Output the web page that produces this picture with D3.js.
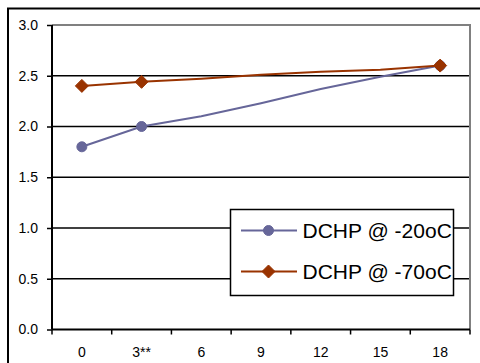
<!DOCTYPE html>
<html>
<head>
<meta charset="utf-8">
<script src="https://cdn.jsdelivr.net/npm/d3@7/dist/d3.min.js"></script>
<style>
  html, body { margin: 0; padding: 0; background: #fff; }
  svg { display: block; }
  text { font-family: "Liberation Sans", Arial, sans-serif; }
</style>
</head>
<body>
<svg id="chart" width="480" height="363"></svg>
<script>
// Storage time categories (x axis)
const categories = ["0", "3**", "6", "9", "12", "15", "18"];
// Series values
const dchpMinus20 = [1.80, 2.00, 2.10, 2.23, 2.37, 2.49, 2.60];
const dchpMinus70 = [2.40, 2.44, 2.47, 2.51, 2.54, 2.56, 2.60];
// Which points carry a marker
const markedPoints = [true, true, false, false, false, false, true];
// Y axis ticks
const yTicks = [0, 0.5, 1.0, 1.5, 2.0, 2.5, 3.0];

const series = [
  { name: "DCHP @ -20oC", values: dchpMinus20, color: "#666699", shape: "circle" },
  { name: "DCHP @ -70oC", values: dchpMinus70, color: "#993300", shape: "diamond" }
];

const svg = d3.select("#chart");

const plot = { left: 52, right: 470, top: 25, bottom: 329.5 };

const x = d3.scaleBand().domain(categories).range([plot.left, plot.right]).padding(0);
const y = d3.scaleLinear().domain([0, 3]).range([plot.bottom, plot.top]);

// Outer chart frame
svg.append("rect")
  .attr("x", 8).attr("y", 8.5)
  .attr("width", 476).attr("height", 362)
  .attr("fill", "none").attr("stroke", "#000").attr("stroke-width", 2);

// Horizontal gridlines
svg.append("g")
  .selectAll("line")
  .data(yTicks.filter(d => d > 0 && d < 3))
  .join("line")
  .attr("x1", plot.left).attr("x2", plot.right)
  .attr("y1", d => y(d)).attr("y2", d => y(d))
  .attr("stroke", "#000").attr("stroke-width", 1.5);

// Plot area border (top and right, grey)
svg.append("path")
  .attr("d", `M${plot.left},${y(3)}H${plot.right}V${plot.bottom}`)
  .attr("fill", "none").attr("stroke", "#808080").attr("stroke-width", 2);

// Y axis
const yAxis = svg.append("g")
  .attr("transform", `translate(${plot.left},0)`)
  .call(d3.axisLeft(y).tickValues(yTicks).tickSize(5).tickPadding(9).tickFormat(d3.format(".1f")));
yAxis.select(".domain").remove();
yAxis.selectAll(".tick line").attr("stroke", "#000").attr("stroke-width", 1.5);
yAxis.selectAll(".tick text").attr("font-size", 14).attr("fill", "#000")
  .attr("font-family", "'Liberation Sans', Arial, sans-serif");

// X axis labels (centred in each category)
const xAxis = svg.append("g")
  .attr("transform", `translate(0,${plot.bottom})`)
  .call(d3.axisBottom(x).tickSize(0).tickPadding(18));
xAxis.select(".domain").remove();
xAxis.selectAll(".tick text").attr("font-size", 14).attr("fill", "#000")
  .attr("font-family", "'Liberation Sans', Arial, sans-serif");

// X tick marks between categories
const boundaries = categories.map(c => x(c)).concat([x(categories[categories.length - 1]) + x.bandwidth()]);
svg.append("g")
  .selectAll("line")
  .data(boundaries)
  .join("line")
  .attr("x1", d => d).attr("x2", d => d)
  .attr("y1", plot.bottom).attr("y2", plot.bottom + 5)
  .attr("stroke", "#000").attr("stroke-width", 1.5);

// Axis lines
svg.append("line")
  .attr("x1", plot.left).attr("x2", plot.left)
  .attr("y1", plot.top).attr("y2", plot.bottom)
  .attr("stroke", "#000").attr("stroke-width", 2);
svg.append("line")
  .attr("x1", plot.left).attr("x2", plot.right)
  .attr("y1", plot.bottom).attr("y2", plot.bottom)
  .attr("stroke", "#000").attr("stroke-width", 2);

const cx = (i) => x(categories[i]) + x.bandwidth() / 2;

const line = d3.line()
  .x((d, i) => cx(i))
  .y(d => y(d));

function drawMarker(g, shape, color, px, py, r) {
  if (shape === "circle") {
    g.append("circle").attr("cx", px).attr("cy", py).attr("r", r)
      .attr("fill", color).attr("stroke", color).attr("stroke-width", 1);
  } else {
    const s = r + 1.5;
    g.append("path")
      .attr("d", `M${px},${py - s}L${px + s},${py}L${px},${py + s}L${px - s},${py}Z`)
      .attr("fill", color).attr("stroke", color).attr("stroke-width", 1);
  }
}

// Lines
series.forEach(s => {
  svg.append("path")
    .datum(s.values)
    .attr("d", line)
    .attr("fill", "none")
    .attr("stroke", s.color)
    .attr("stroke-width", 2);
});

// Markers
series.forEach(s => {
  const g = svg.append("g");
  s.values.forEach((v, i) => {
    if (markedPoints[i]) drawMarker(g, s.shape, s.color, cx(i), y(v), 5);
  });
});

// Legend
const legend = svg.append("g");
legend.append("rect")
  .attr("x", 230.5).attr("y", 209.5)
  .attr("width", 223).attr("height", 86)
  .attr("fill", "#fff").attr("stroke", "#000").attr("stroke-width", 1.5);

const legendRows = [230.5, 271.5];
series.forEach((s, i) => {
  const ly = legendRows[i];
  legend.append("line")
    .attr("x1", 241).attr("x2", 297)
    .attr("y1", ly).attr("y2", ly)
    .attr("stroke", s.color).attr("stroke-width", 2);
  drawMarker(legend, s.shape, s.color, 268.5, ly, 5);
  legend.append("text")
    .attr("x", 302.5).attr("y", ly)
    .attr("dy", "0.36em")
    .attr("font-size", 21)
    .attr("fill", "#000")
    .text(s.name);
});
</script>
</body>
</html>
